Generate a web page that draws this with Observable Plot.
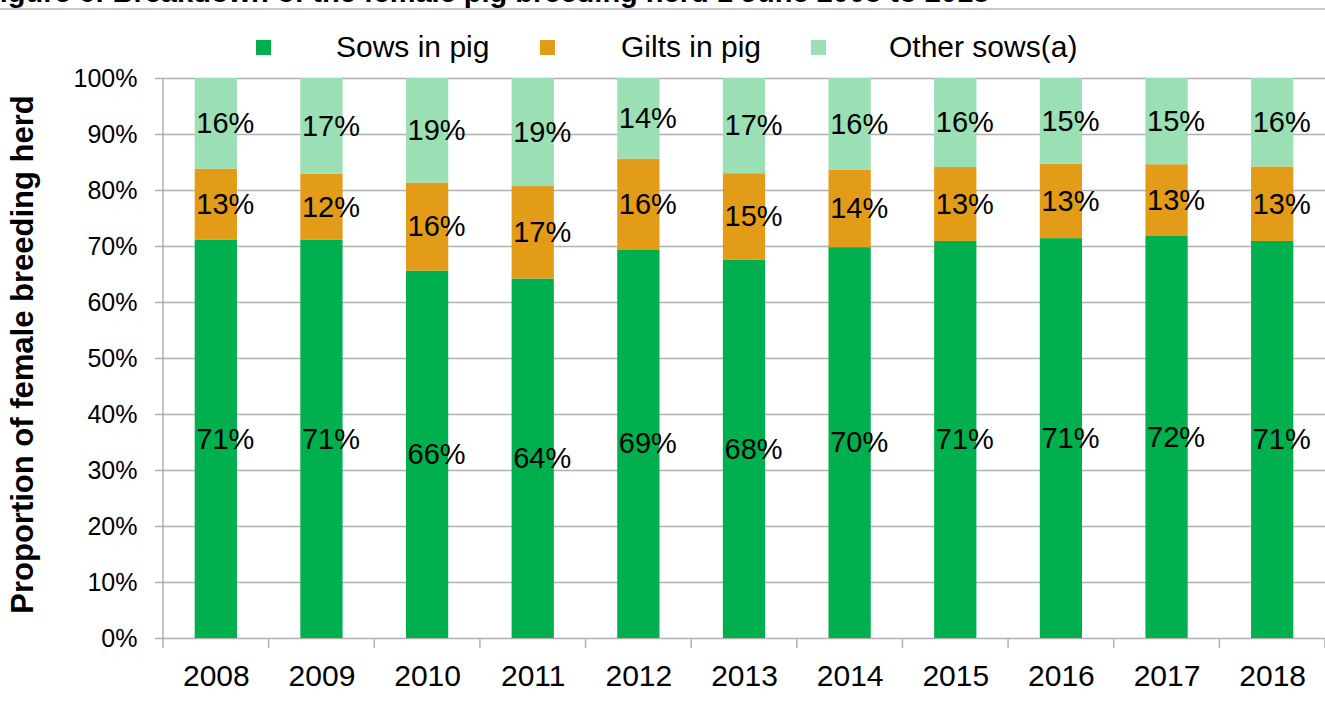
<!DOCTYPE html>
<html>
<head>
<meta charset="utf-8">
<script src="https://cdn.jsdelivr.net/npm/d3@7"></script>
<script src="https://cdn.jsdelivr.net/npm/@observablehq/plot@0.6"></script>
<style>
  html, body { margin: 0; padding: 0; background: #fff; }
  body { width: 1325px; height: 719px; overflow: hidden; font-family: "Liberation Sans", Arial, sans-serif; }
  #header { position: relative; width: 1325px; height: 60px; z-index: 2; }
  #title { position: absolute; left: -18px; top: -22.5px; font-weight: bold; font-size: 29px; line-height: 29px; white-space: nowrap; color: #000; }
  #rule { position: absolute; left: 0; top: 8px; width: 1325px; height: 1.5px; background: #c9c9c9; }
  .sw { position: absolute; top: 40px; width: 15px; height: 15px; }
  .lt { position: absolute; top: 31.6px; font-size: 30px; line-height: 30px; white-space: nowrap; color: #000; }
  #chart { position: relative; z-index: 1; }
  #chart svg { background: transparent; }
</style>
</head>
<body>
<div id="header">
  <div id="title">Figure 6: Breakdown of the female pig breeding herd 1 June 2008 to 2018</div>
  <div id="rule"></div>
</div>
<div id="chart"></div>
<script>
// ---- data ----
const years = ["2008","2009","2010","2011","2012","2013","2014","2015","2016","2017","2018"];
const seriesNames = ["Sows in pig", "Gilts in pig", "Other sows(a)"];
const seriesColors = ["#00b04f", "#e29c17", "#9bdfb4"];
const sowsInPig   = [71.1, 71.1, 65.6, 64.2, 69.4, 67.6, 69.8, 70.9, 71.4, 71.8, 70.9];
const giltsInPig  = [12.7, 11.8, 15.7, 16.5, 16.2, 15.4, 13.8, 13.2, 13.3, 12.8, 13.3];
const otherSows   = [16.2, 17.1, 18.7, 19.3, 14.4, 17.0, 16.4, 15.9, 15.3, 15.4, 15.8];
const yTicks = [0, 10, 20, 30, 40, 50, 60, 70, 80, 90, 100];
const yTitle = "Proportion of female breeding herd";

const seriesValues = [sowsInPig, giltsInPig, otherSows];
const rows = [];
seriesNames.forEach((s, k) => years.forEach((y, i) => rows.push({year: y, series: s, value: seriesValues[k][i]})));

// ---- legend (HTML, above the SVG) ----
const header = document.getElementById("header");
const swatchX = [256, 540, 811];
const textX = [336, 621, 889];
seriesNames.forEach((s, k) => {
  const sw = document.createElement("div");
  sw.className = "sw"; sw.style.left = swatchX[k] + "px"; sw.style.background = seriesColors[k];
  header.appendChild(sw);
  const t = document.createElement("div");
  t.className = "lt"; t.style.left = textX[k] + "px"; t.textContent = s;
  header.appendChild(t);
});

const gridColor = "#b0b0b0";

// boundary ticks on the category axis + vertical axis line
function categoryAxisLines(index, scales, channels, dims) {
  const x = scales.x;
  const step = x.step(), bw = x.bandwidth();
  const off = (step - bw) / 2;
  const yb = dims.height - dims.marginBottom;
  const g = d3.create("svg:g").attr("stroke", gridColor).attr("stroke-width", 1.5);
  const bounds = years.map(y => x(y) - off);
  bounds.push(x(years[years.length - 1]) + bw + off);
  g.append("line").attr("x1", bounds[0]).attr("x2", bounds[0]).attr("y1", dims.marginTop).attr("y2", yb);
  bounds.forEach(b => g.append("line").attr("x1", b).attr("x2", b).attr("y1", yb).attr("y2", yb + 10));
  return g.node();
}

const chart = Plot.plot({
  width: 1325,
  height: 659,
  marginTop: 18,
  marginBottom: 81,
  marginLeft: 163,
  marginRight: 0,
  style: {fontFamily: "'Liberation Sans', Arial, sans-serif", background: "transparent", color: "#000", overflow: "visible"},
  x: {domain: years, paddingInner: 0.6, paddingOuter: 0.3, round: false, label: null},
  y: {domain: [0, 100], label: null},
  color: {domain: seriesNames, range: seriesColors},
  marks: [
    Plot.gridY(yTicks, {stroke: gridColor, strokeOpacity: 1, strokeWidth: 1.5}),
    Plot.axisY(yTicks, {tickSize: 8, tickPadding: 18, tickFormat: d => d + "%", fontSize: 25, stroke: gridColor, strokeWidth: 1.5, fill: "#000", label: null}),
    Plot.axisX({tickSize: 0, tickPadding: 26, fontSize: 30, fill: "#000", label: null}),
    Plot.barY(rows, {x: "year", y: "value", fill: "series"}),
    Plot.text(rows, Plot.stackY({x: "year", y: "value", text: d => Math.round(d.value) + "%", textAnchor: "start", dx: -20, fontSize: 29, fill: "#000"})),
    categoryAxisLines,
    Plot.text([yTitle], {frameAnchor: "left", textAnchor: "middle", rotate: -90, dx: -140, dy: -4, fontSize: 31, fontWeight: "bold", fill: "#000"})
  ]
});
document.getElementById("chart").appendChild(chart);
</script>
</body>
</html>
